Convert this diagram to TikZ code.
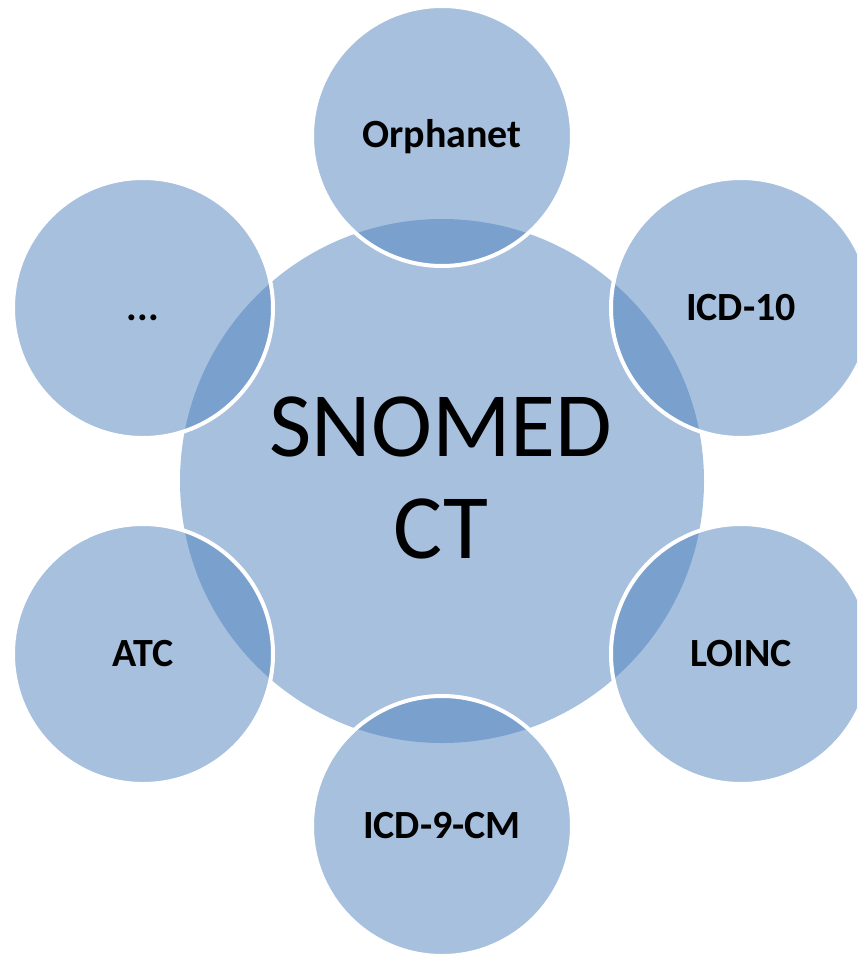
\documentclass[tikz,border=0pt]{standalone}
\usepackage{fontspec}
\setmainfont{Carlito}
\definecolor{accent}{RGB}{79,129,189}
\tikzset{
  hub/.style={circle, fill=accent, fill opacity=0.5, draw=none, minimum size=524pt, inner sep=0pt},
  sat/.style={circle, fill=accent, fill opacity=0.5, draw=white, draw opacity=1, line width=4pt, minimum size=260pt, inner sep=0pt},
  lbl/.style={font=\fontsize{40}{48}\selectfont\bfseries, text=black, anchor=base, inner sep=0pt},
  biglbl/.style={font=\fontsize{92}{102}\selectfont, text=black, anchor=base, inner sep=0pt}
}
\begin{document}
\begin{tikzpicture}[x=1pt,y=-1pt]
\useasboundingbox (0,0) rectangle (857,956);
\clip (0,0) rectangle (857,956);
\node[hub] (hubc) at (442,481) {};
\node[sat] (orph) at (442,136) {};
\node[sat] (icdten) at (741,308) {};
\node[sat] (loinc) at (741,654) {};
\node[sat] (icdnine) at (442,826) {};
\node[sat] (atc) at (143,654) {};
\node[sat] (more) at (143,308) {};
\node[biglbl] (t1) at (441,456) {SNOMED};
\node[biglbl] (t2) at (441,558) {CT};
\node[lbl] (l1) at (442,147) {Orphanet};
\node[lbl] (l2) at (741,320) {ICD-10};
\node[lbl] (l3) at (741,666) {LOINC};
\node[lbl] (l4) at (442,838) {ICD-9-CM};
\node[lbl] (l5) at (143,666) {ATC};
\node[lbl] (l6) at (143,320) {...};
\end{tikzpicture}
\end{document}
